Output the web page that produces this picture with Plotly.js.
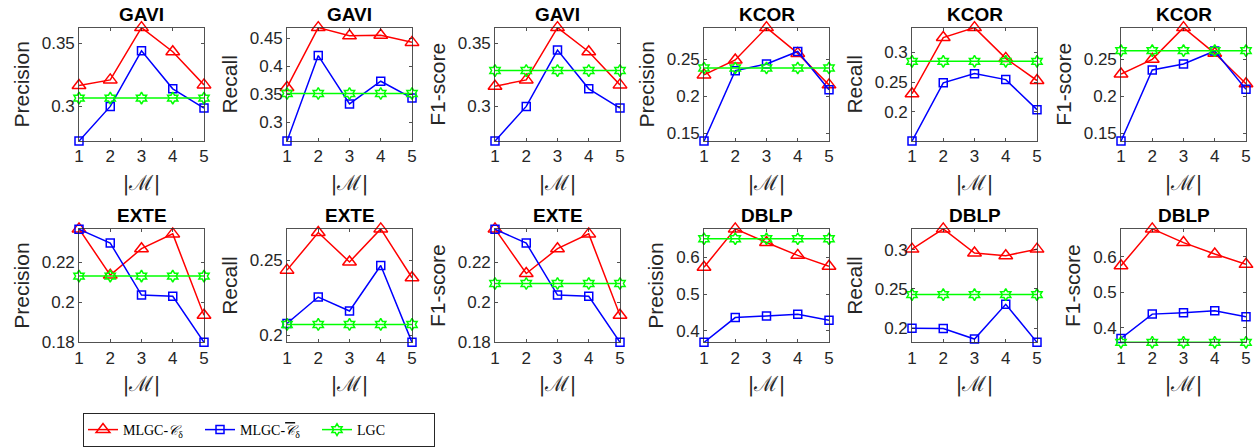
<!DOCTYPE html>
<html><head><meta charset="utf-8">
<script src="https://cdn.plot.ly/plotly-3.0.1.min.js"></script>
<style>html,body{margin:0;padding:0;background:#fff}#chart{width:1259px;height:447px}</style>
</head><body><div id="chart"></div>
<script>
// ---------- data ----------
const M = [1, 2, 3, 4, 5];
const xTickLabels = ['1', '2', '3', '4', '5'];
const seriesNames = [
  'MLGC-<i>𝒞</i><sub>δ</sub>',
  'MLGC-<span style="text-decoration:overline"><i>𝒞</i></span><sub>δ</sub>',
  'LGC'
];
const panelTitles = ['GAVI', 'GAVI', 'GAVI', 'KCOR', 'KCOR', 'KCOR', 'EXTE', 'EXTE', 'EXTE', 'DBLP', 'DBLP', 'DBLP'];
const panelMetrics = ['Precision', 'Recall', 'F1-score', 'Precision', 'Recall', 'F1-score',
                      'Precision', 'Recall', 'F1-score', 'Precision', 'Recall', 'F1-score'];
const yTickSteps = [0.05, 0.05, 0.05, 0.05, 0.05, 0.05, 0.02, 0.05, 0.02, 0.1, 0.05, 0.1];

const gaviPrecisionC    = [0.3163, 0.3208, 0.3624, 0.3432, 0.3168];
const gaviPrecisionCbar = [0.2721, 0.2997, 0.3439, 0.3137, 0.2984];
const gaviPrecisionLGC  = [0.3063, 0.3063, 0.3063, 0.3063, 0.3063];
const gaviRecallC       = [0.3618, 0.4688, 0.4541, 0.4553, 0.4424];
const gaviRecallCbar    = [0.2659, 0.4188, 0.3324, 0.3729, 0.3429];
const gaviRecallLGC     = [0.3510, 0.3510, 0.3510, 0.3510, 0.3510];
const gaviF1C           = [0.3158, 0.3208, 0.3624, 0.3432, 0.3168];
const gaviF1Cbar        = [0.2721, 0.2997, 0.3445, 0.3137, 0.2984];
const gaviF1LGC         = [0.3282, 0.3282, 0.3282, 0.3282, 0.3282];

const kcorPrecisionC    = [0.2287, 0.2487, 0.2922, 0.2576, 0.2153];
const kcorPrecisionCbar = [0.1398, 0.2344, 0.2433, 0.2602, 0.2087];
const kcorPrecisionLGC  = [0.2380, 0.2380, 0.2380, 0.2380, 0.2380];
const kcorRecallC       = [0.2306, 0.3250, 0.3417, 0.2900, 0.2528];
const kcorRecallCbar    = [0.1511, 0.2489, 0.2644, 0.2544, 0.2039];
const kcorRecallLGC     = [0.2850, 0.2850, 0.2850, 0.2850, 0.2850];
const kcorF1C           = [0.2302, 0.2500, 0.2928, 0.2581, 0.2171];
const kcorF1Cbar        = [0.1396, 0.2356, 0.2437, 0.2613, 0.2095];
const kcorF1LGC         = [0.2617, 0.2617, 0.2617, 0.2617, 0.2617];

const extePrecisionC    = [0.2367, 0.2136, 0.2268, 0.2342, 0.1935];
const extePrecisionCbar = [0.2365, 0.2296, 0.2036, 0.2030, 0.1800];
const extePrecisionLGC  = [0.2131, 0.2131, 0.2131, 0.2131, 0.2131];
const exteRecallC       = [0.2434, 0.2686, 0.2489, 0.2710, 0.2383];
const exteRecallCbar    = [0.2077, 0.2254, 0.2161, 0.2465, 0.1951];
const exteRecallLGC     = [0.2071, 0.2071, 0.2071, 0.2071, 0.2071];
const exteF1C           = [0.2367, 0.2144, 0.2268, 0.2342, 0.1935];
const exteF1Cbar        = [0.2365, 0.2296, 0.2036, 0.2030, 0.1800];
const exteF1LGC         = [0.2094, 0.2094, 0.2094, 0.2094, 0.2094];

const dblpPrecisionC    = [0.5730, 0.6775, 0.6405, 0.6054, 0.5757];
const dblpPrecisionCbar = [0.3685, 0.4360, 0.4405, 0.4450, 0.4288];
const dblpPrecisionLGC  = [0.6505, 0.6505, 0.6505, 0.6505, 0.6505];
const dblpRecallC       = [0.3008, 0.3266, 0.2958, 0.2924, 0.3008];
const dblpRecallCbar    = [0.2000, 0.1996, 0.1861, 0.2304, 0.1819];
const dblpRecallLGC     = [0.2428, 0.2428, 0.2428, 0.2428, 0.2428];
const dblpF1C           = [0.5746, 0.6780, 0.6395, 0.6075, 0.5784];
const dblpF1Cbar        = [0.3700, 0.4385, 0.4423, 0.4480, 0.4310];
const dblpF1LGC         = [0.3592, 0.3592, 0.3592, 0.3592, 0.3592];

const panels = [
  [gaviPrecisionC, gaviPrecisionCbar, gaviPrecisionLGC],
  [gaviRecallC, gaviRecallCbar, gaviRecallLGC],
  [gaviF1C, gaviF1Cbar, gaviF1LGC],
  [kcorPrecisionC, kcorPrecisionCbar, kcorPrecisionLGC],
  [kcorRecallC, kcorRecallCbar, kcorRecallLGC],
  [kcorF1C, kcorF1Cbar, kcorF1LGC],
  [extePrecisionC, extePrecisionCbar, extePrecisionLGC],
  [exteRecallC, exteRecallCbar, exteRecallLGC],
  [exteF1C, exteF1Cbar, exteF1LGC],
  [dblpPrecisionC, dblpPrecisionCbar, dblpPrecisionLGC],
  [dblpRecallC, dblpRecallCbar, dblpRecallLGC],
  [dblpF1C, dblpF1Cbar, dblpF1LGC]
];

// ---------- styling ----------
const W = 1259, H = 447;
const colLeft = [79, 287, 495, 704, 912, 1121];
const plotW = 125;
const rowTop = [28, 232];
const plotH = 115;
const colors = ['#FF0000', '#0000FF', '#00FF00'];
const symbols = ['triangle-up-open', 'square-open', 'hexagram-open'];
const msizes = [12, 8, 9];
const axisColor = '#262626';
const sansFont = 'Liberation Sans, Arial, Helvetica, sans-serif';

const traces = [];
const layout = {
  width: W, height: H,
  margin: {l: 0, r: 0, t: 0, b: 0},
  paper_bgcolor: '#fff', plot_bgcolor: '#fff',
  showlegend: true,
  legend: {
    orientation: 'h', x: 83 / W, y: 1 - 419 / H, xanchor: 'left', yanchor: 'top',
    bordercolor: '#262626', borderwidth: 1, bgcolor: '#fff',
    font: {family: 'Liberation Serif, Times New Roman, serif', size: 14, color: '#000'},
    tracegroupgap: 0, itemwidth: 30, entrywidth: 72, entrywidthmode: 'pixels'
  },
  annotations: []
};

panels.forEach((series, p) => {
  const row = Math.floor(p / 6), col = p % 6;
  const idx = p + 1;
  const xa = 'xaxis' + (idx === 1 ? '' : idx);
  const ya = 'yaxis' + (idx === 1 ? '' : idx);
  const xr = 'x' + (idx === 1 ? '' : idx);
  const yr = 'y' + (idx === 1 ? '' : idx);
  const all = series.flat();
  const ymin = Math.min(...all), ymax = Math.max(...all);

  series.forEach((vals, s) => {
    traces.push({
      x: M, y: vals, xaxis: xr, yaxis: yr,
      type: 'scatter', mode: 'lines+markers',
      name: seriesNames[s], legendgroup: 's' + s, showlegend: p === 0,
      line: {color: colors[s], width: 1.5},
      marker: {symbol: symbols[s], size: msizes[s], color: colors[s], line: {color: colors[s], width: 1.5}},
      cliponaxis: false, hoverinfo: 'x+y'
    });
  });

  const l = colLeft[col], t = rowTop[row];
  layout[xa] = {
    domain: [l / W, (l + plotW) / W],
    anchor: yr, range: [1, 5],
    tickmode: 'array', tickvals: M, ticktext: xTickLabels,
    ticks: 'inside', ticklen: 3, tickcolor: axisColor, tickwidth: 0.8,
    showline: true, linecolor: axisColor, linewidth: 0.8, mirror: 'ticks',
    showgrid: false, zeroline: false,
    tickfont: {family: sansFont, size: 17, color: axisColor},
    title: {text: '|ℳ|', standoff: 9, font: {family: 'DejaVu Serif, serif', size: 21, color: axisColor}}
  };
  layout[ya] = {
    domain: [1 - (t + plotH) / H, 1 - t / H],
    anchor: xr, range: [ymin, ymax],
    dtick: yTickSteps[p], tick0: 0,
    ticks: 'inside', ticklen: 3, tickcolor: axisColor, tickwidth: 0.8,
    showline: true, linecolor: axisColor, linewidth: 0.8, mirror: 'ticks',
    showgrid: false, zeroline: false,
    tickfont: {family: sansFont, size: 17, color: axisColor},
    title: {text: panelMetrics[p], standoff: 6, font: {family: sansFont, size: 21, color: axisColor}}
  };
  layout.annotations.push({
    text: '<b>' + panelTitles[p] + '</b>',
    xref: xr + ' domain', yref: yr + ' domain', x: 0.5, y: 1,
    xanchor: 'center', yanchor: 'bottom', yshift: 1, showarrow: false,
    font: {family: sansFont, size: 19, color: '#000'}
  });
});

Plotly.newPlot('chart', traces, layout, {displayModeBar: false, staticPlot: true});
</script>
</body></html>
